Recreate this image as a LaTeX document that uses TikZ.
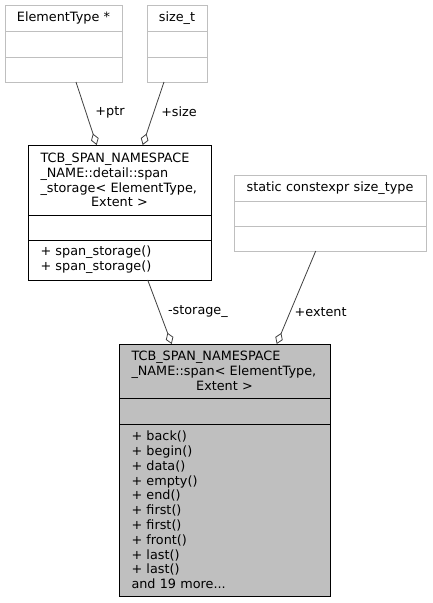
\documentclass[tikz,border=0pt]{standalone}
\usepackage{fontspec}
\setmainfont{DejaVu Sans}
\usetikzlibrary{positioning,arrows.meta}
\definecolor{grey75}{HTML}{BFBFBF}
\definecolor{grey25}{HTML}{404040}

\begin{document}
\begin{tikzpicture}[x=1pt,y=-1pt,
 part/.style={draw,rectangle,line width=1pt,inner xsep=4pt,inner ysep=0pt,outer sep=0pt,
   font=\fontsize{12.8}{14.8}\selectfont},
 head/.style={part,align=center},
 longhead/.style={part,align=left,inner xsep=12.5pt},
 body/.style={part,align=left,inner xsep=12.5pt},
 gbox/.style={draw=grey75,fill=white},
 bbox/.style={draw=black,fill=white},
 mbox/.style={draw=black,fill=grey75},
 link/.style={draw=grey25,line width=0.8pt,{Diamond[open,length=12pt,width=8pt]}-},
 lbl/.style={anchor=west,inner sep=0pt,text=black,font=\fontsize{12.8}{14.8}\selectfont}]
\useasboundingbox (0,0) rectangle (432,603);

% member types
\node[head,gbox,text width=109pt,minimum height=26pt,anchor=north west] (elem) at (5,5) {ElementType *};
\node[part,gbox,minimum width=117pt,minimum height=26pt,below=0pt of elem] (elem-a) {};
\node[part,gbox,minimum width=117pt,minimum height=25pt,below=0pt of elem-a] (elem-m) {};

\node[head,gbox,text width=52pt,minimum height=26pt,anchor=north west] (sizet) at (147,5) {size\_t};
\node[part,gbox,minimum width=60pt,minimum height=26pt,below=0pt of sizet] (sizet-a) {};
\node[part,gbox,minimum width=60pt,minimum height=25pt,below=0pt of sizet-a] (sizet-m) {};

\node[head,gbox,text width=184pt,minimum height=26pt,anchor=north west] (ext) at (234,175) {static constexpr size\_type};
\node[part,gbox,minimum width=192pt,minimum height=25pt,below=0pt of ext] (ext-a) {};
\node[part,gbox,minimum width=192pt,minimum height=25pt,below=0pt of ext-a] (ext-m) {};

% span_storage
\node[longhead,bbox,text width=158pt,minimum height=70pt,anchor=north west] (stor) at (28,145)
 {TCB\_SPAN\_NAMESPACE\\\_NAME::detail::span\\\_storage<~ElementType,\\\hspace*{\fill}Extent~>\hspace*{\fill}\null};
\node[part,bbox,minimum width=183pt,minimum height=25pt,below=0pt of stor] (stor-a) {};
\node[body,bbox,text width=158pt,minimum height=40pt,below=0pt of stor-a] (stor-m)
 {+ span\_storage()\\+ span\_storage()};

% span
\node[longhead,mbox,text width=186pt,minimum height=54pt,anchor=north west] (span) at (119,344)
 {TCB\_SPAN\_NAMESPACE\\\_NAME::span<~ElementType,\\\hspace*{\fill}Extent~>\hspace*{\fill}\null};
\node[part,mbox,minimum width=211pt,minimum height=26pt,below=0pt of span] (span-a) {};
\node[body,mbox,text width=186pt,minimum height=172pt,below=0pt of span-a] (span-m)
 {+ back()\\+ begin()\\+ data()\\+ empty()\\+ end()\\+ first()\\+ first()\\+ front()\\+ last()\\+ last()\\and 19 more...};

\draw[link] ([xshift=-22.8pt]stor.north) -- node[lbl,pos=0.513,xshift=9pt] {+ptr} ([xshift=12.5pt]elem-m.south);
\draw[link] ([xshift=23.2pt]stor.north) -- node[lbl,pos=0.524,xshift=7pt] {+size} ([xshift=-13pt]sizet-m.south);
\draw[link] ([xshift=-52.8pt]span.north) -- node[lbl,pos=0.5,xshift=8pt] {-storage\_} ([xshift=28.2pt]stor-m.south);
\draw[link] ([xshift=52.2pt]span.north) -- node[lbl,pos=0.347,xshift=4pt] {+extent} ([xshift=-14.3pt]ext-m.south);
\end{tikzpicture}
\end{document}
